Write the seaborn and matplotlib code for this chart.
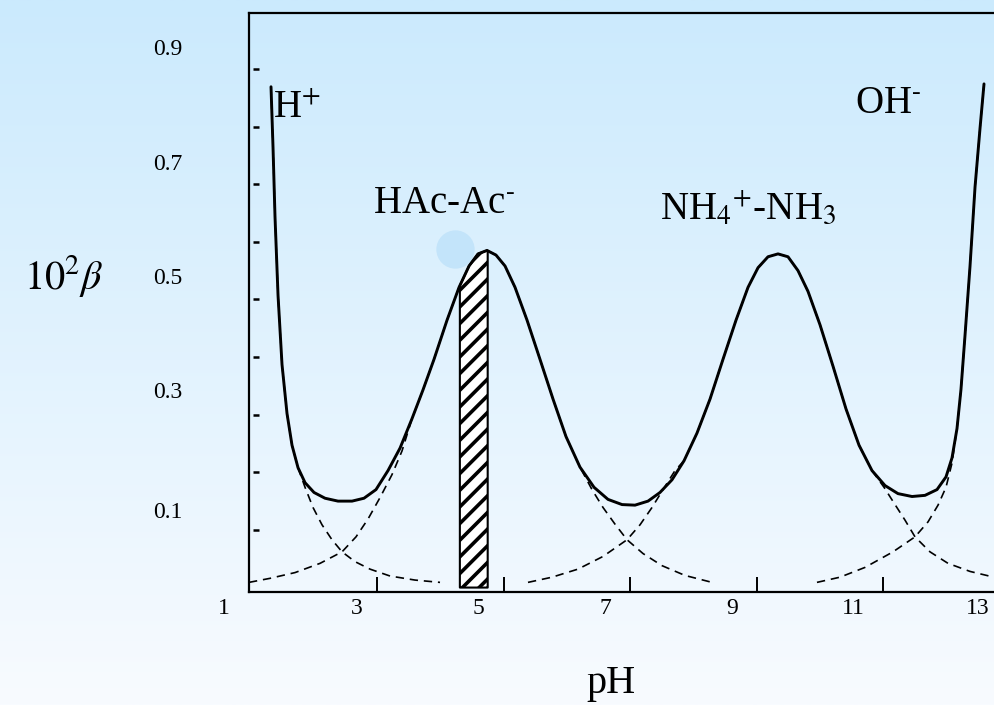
import numpy as np
import matplotlib
matplotlib.use("Agg")
import matplotlib.pyplot as plt
import matplotlib.transforms as mtransforms
from matplotlib.colors import LinearSegmentedColormap
import seaborn as sns

# ---------------- data ----------------
solid_ph = [1.324, 1.356, 1.387, 1.435, 1.498, 1.577, 1.656, 1.751, 1.862, 2.004,
            2.178, 2.383, 2.605, 2.794, 2.984, 3.174, 3.364, 3.553, 3.727, 3.901,
            4.107, 4.297, 4.455, 4.597, 4.739, 4.881, 5.024, 5.182, 5.372, 5.577,
            5.783, 5.988, 6.209, 6.431, 6.652, 6.874, 7.079, 7.285, 7.474, 7.664,
            7.854, 8.059, 8.265, 8.470, 8.676, 8.866, 9.024, 9.182, 9.340, 9.498,
            9.656, 9.814, 10.004, 10.210, 10.415, 10.621, 10.826, 11.032, 11.237, 11.459,
            11.664, 11.854, 11.996, 12.091, 12.170, 12.233, 12.297, 12.376, 12.455, 12.534,
            12.597]
solid_beta = [0.869, 0.763, 0.644, 0.507, 0.387, 0.302, 0.247, 0.208, 0.182, 0.165,
              0.155, 0.150, 0.150, 0.155, 0.170, 0.203, 0.242, 0.293, 0.343, 0.396,
              0.464, 0.521, 0.558, 0.579, 0.585, 0.577, 0.558, 0.521, 0.464, 0.396,
              0.327, 0.262, 0.209, 0.174, 0.153, 0.144, 0.143, 0.150, 0.165, 0.187,
              0.220, 0.268, 0.327, 0.396, 0.464, 0.521, 0.555, 0.574, 0.579, 0.574,
              0.550, 0.514, 0.456, 0.384, 0.310, 0.247, 0.203, 0.177, 0.163, 0.158,
              0.160, 0.170, 0.192, 0.225, 0.276, 0.344, 0.438, 0.558, 0.695, 0.797,
              0.874]

h_ph = [1.324, 1.356, 1.387, 1.435, 1.498, 1.577, 1.656, 1.751, 1.862, 1.988,
        2.130, 2.288, 2.447, 2.652, 2.889, 3.206, 3.601, 3.996]
h_beta = [0.869, 0.763, 0.644, 0.507, 0.387, 0.302, 0.247, 0.208, 0.174, 0.139,
          0.109, 0.083, 0.062, 0.045, 0.032, 0.020, 0.013, 0.009]

hac_ph = [0.976, 1.308, 1.704, 2.099, 2.447, 2.668, 2.858, 3.047, 3.237, 3.395,
          3.553, 3.727, 3.901, 4.107, 4.297, 4.455, 4.597, 4.739, 4.881, 5.024,
          5.182, 5.372, 5.577, 5.783, 5.988, 6.209, 6.399, 6.573, 6.763, 6.953,
          7.206, 7.506, 7.870, 8.297]
hac_beta = [0.009, 0.016, 0.026, 0.042, 0.062, 0.088, 0.119, 0.156, 0.196, 0.237,
            0.293, 0.343, 0.396, 0.464, 0.521, 0.558, 0.579, 0.585, 0.577, 0.558,
            0.521, 0.464, 0.396, 0.327, 0.262, 0.209, 0.170, 0.139, 0.110, 0.083,
            0.059, 0.038, 0.021, 0.009]

nh4_ph = [5.387, 5.767, 6.178, 6.573, 6.953, 7.159, 7.348, 7.522, 7.712, 7.854,
          8.059, 8.265, 8.470, 8.676, 8.866, 9.024, 9.182, 9.340, 9.498, 9.656,
          9.814, 10.004, 10.210, 10.415, 10.621, 10.826, 11.016, 11.190, 11.348, 11.506,
          11.743, 12.028, 12.376, 12.755]
nh4_beta = [0.009, 0.018, 0.032, 0.054, 0.083, 0.109, 0.139, 0.170, 0.203, 0.220,
            0.268, 0.327, 0.396, 0.464, 0.521, 0.555, 0.574, 0.579, 0.574, 0.550,
            0.514, 0.456, 0.384, 0.310, 0.247, 0.203, 0.174, 0.144, 0.117, 0.088,
            0.062, 0.042, 0.028, 0.018]

oh_ph = [9.956, 10.320, 10.716, 11.158, 11.506, 11.712, 11.870, 11.996, 12.091, 12.170,
         12.233, 12.297, 12.376, 12.455, 12.534, 12.597]
oh_beta = [0.009, 0.018, 0.035, 0.062, 0.088, 0.114, 0.143, 0.174, 0.216, 0.276,
           0.344, 0.438, 0.558, 0.695, 0.797, 0.874]

buffer_range = [4.31, 4.75]
highlight_ph = [4.233]
highlight_beta = [0.587]

xtick_vals = [3, 5, 7, 9, 11]
xlabel_text = ["1", "3", "5", "7", "9", "11", "13"]
xlabel_pos = [0.58, 2.68, 4.60, 6.61, 8.61, 10.53, 12.49]
ytick_vals = [0.1, 0.2, 0.3, 0.4, 0.5, 0.6, 0.7, 0.8, 0.9]
ylabel_text = ["0.1", "0.3", "0.5", "0.7", "0.9"]
ylabel_pos = [0.131, 0.339, 0.536, 0.734, 0.934]

# ---------------- style ----------------
sns.set_theme(style="white")
plt.rcParams["font.family"] = ["Liberation Serif", "DejaVu Serif"]
plt.rcParams["mathtext.fontset"] = "stix"
plt.rcParams["hatch.linewidth"] = 2.6
plt.rcParams["text.color"] = "black"

W, H = 994, 705
fig = plt.figure(figsize=(W / 100, H / 100), dpi=100)

# gradient background
bg = fig.add_axes([0, 0, 1, 1], zorder=0)
grad = np.linspace(0, 1, 256).reshape(-1, 1)
cmap = LinearSegmentedColormap.from_list("bg", ["#cbeafd", "#f8fbff"])
bg.imshow(grad, aspect="auto", cmap=cmap, extent=[0, 1, 0, 1], origin="upper")
bg.axis("off")

ax = fig.add_axes([249 / W, 1 - 592 / H, 745 / W, 579 / H], zorder=1)
ax.set_facecolor("none")

# highlight dot
ax.scatter(highlight_ph, highlight_beta, s=760, color="#c3e4fa", linewidths=0, zorder=1)

# hatched buffer region
xf = np.linspace(buffer_range[0], buffer_range[1], 40)
yf = np.interp(xf, solid_ph, solid_beta)
ax.fill_between(xf, 0, yf, facecolor="white", edgecolor="black", hatch="//",
                linewidth=1.5, zorder=2)

# dashed component curves
for xs, ys in [(h_ph, h_beta), (hac_ph, hac_beta), (nh4_ph, nh4_beta), (oh_ph, oh_beta)]:
    sns.lineplot(x=xs, y=ys, sort=False, estimator=None, color="black",
                 linewidth=1.2, linestyle=(0, (5, 3.5)), ax=ax, zorder=3)

# total curve
sns.lineplot(x=solid_ph, y=solid_beta, sort=False, estimator=None, color="black",
             linewidth=2.1, ax=ax, zorder=4)

ax.set_xlim(0.976, 12.755)
ax.set_ylim(-0.0077, 0.997)

for side in ["left", "bottom", "top"]:
    ax.spines[side].set_visible(True)
    ax.spines[side].set_color("black")
    ax.spines[side].set_linewidth(1.6)
ax.spines["right"].set_visible(False)

ax.set_xticks(xtick_vals)
ax.set_yticks([])
ax.tick_params(axis="x", direction="in", length=11, width=1.4, color="black",
               labelbottom=False, bottom=True, top=False)
ax.set_xlabel("")
ax.set_ylabel("")

# small y tick dashes (slightly detached from the spine)
ytrans = mtransforms.blended_transform_factory(ax.transAxes, ax.transData)
ax.plot([0.0094] * len(ytick_vals), ytick_vals, ls="none", marker="_", ms=4,
        mew=1.8, color="black", transform=ytrans, clip_on=False)

# tick labels
for t, v in zip(ylabel_text, ylabel_pos):
    ax.text(-0.109, v, t, transform=ytrans, ha="center", va="center", fontsize=17,
            color="black")
xtrans = mtransforms.blended_transform_factory(ax.transData, ax.transAxes)
for t, p in zip(xlabel_text, xlabel_pos):
    ax.text(p, -0.028, t, transform=xtrans, ha="center", va="center", fontsize=17,
            color="black")

# axis titles
fig.text(64 / W, 1 - 276 / H, r"$10^2\beta$", ha="center", va="center", fontsize=29,
         color="black")
fig.text(611 / W, 1 - 683 / H, "pH", ha="center", va="center", fontsize=29,
         color="black")

# curve labels
ax.text(1.356, 0.816, r"H$^{+}$", ha="left", va="baseline", fontsize=28, color="black")
ax.text(11.08, 0.823, r"OH$^{\text{-}}$", ha="center", va="baseline", fontsize=28,
        color="black")
ax.text(4.06, 0.650, r"HAc-Ac$^{\text{-}}$", ha="center", va="baseline", fontsize=28,
        color="black")
ax.text(8.866, 0.640, r"NH$_4$$^{+}$-NH$_3$", ha="center", va="baseline", fontsize=28,
        color="black")

fig.savefig("out.png", dpi=100)
